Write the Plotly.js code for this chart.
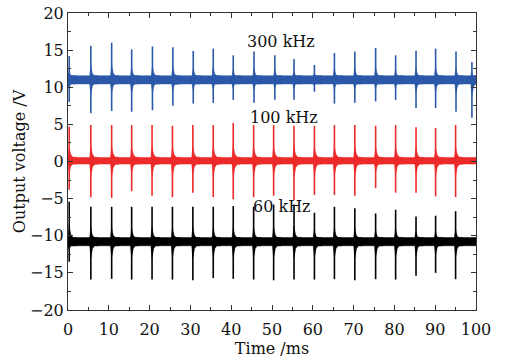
<!DOCTYPE html>
<html>
<head>
<meta charset="utf-8">
<script src="https://cdn.plot.ly/plotly-3.0.1.min.js"></script>
<style>html,body{margin:0;padding:0;background:#fff;}#chart{width:508px;height:362px;}</style>
</head>
<body>
<div id="chart"></div>
<script>
// ---- data ----
var blueTimes = [0.3, 5.6, 10.7, 15.6, 20.7, 25.7, 30.7, 35.6, 40.5, 45.6, 50.7, 55.4, 60.4, 65.3, 70.3, 75.4, 80.3, 85.3, 90.1, 95.1, 99.0];
var blueHigh  = [14.2, 15.6, 16.0, 15.1, 15.5, 15.4, 14.9, 15.2, 14.3, 14.8, 14.3, 13.8, 13.0, 14.6, 14.8, 15.3, 14.3, 14.9, 15.2, 14.8, 13.4];
var blueLow   = [8.0, 6.5, 6.8, 6.7, 6.9, 7.5, 7.8, 7.9, 8.3, 7.9, 8.3, 8.3, 9.4, 7.8, 7.9, 8.1, 8.3, 7.2, 7.2, 6.7, 5.9];
var blueBase = 11.0, blueNoise = 0.55;

var redTimes = [0.3, 5.6, 10.7, 15.6, 20.6, 25.6, 30.6, 35.6, 40.5, 45.5, 50.4, 55.4, 60.4, 65.3, 70.3, 75.4, 80.3, 85.3, 90.1, 95.0];
var redHigh  = [4.7, 4.9, 4.9, 4.9, 4.9, 4.8, 4.9, 4.9, 5.2, 4.9, 4.9, 4.8, 4.8, 4.9, 4.9, 4.8, 4.9, 4.6, 4.5, 4.9];
var redLow   = [-3.8, -4.8, -4.9, -4.0, -4.6, -4.8, -4.2, -4.8, -5.1, -4.8, -4.6, -5.2, -4.5, -4.5, -4.6, -3.6, -4.2, -4.2, -4.7, -4.8];
var redBase = 0.1, redNoise = 0.45;

var blackTimes = [0.3, 5.6, 10.7, 15.6, 20.6, 25.6, 30.6, 35.6, 40.5, 45.5, 50.4, 55.4, 60.4, 65.3, 70.3, 75.4, 80.3, 85.3, 90.1, 95.0];
var blackHigh  = [-5.4, -6.1, -6.1, -6.1, -6.1, -6.1, -6.1, -6.1, -6.0, -6.1, -5.8, -5.8, -6.9, -6.1, -6.3, -7.0, -6.5, -7.4, -7.3, -6.7];
var blackLow   = [-13.5, -15.9, -15.8, -15.9, -15.9, -15.9, -16.0, -15.7, -15.8, -15.9, -16.0, -15.9, -15.9, -15.85, -16.0, -15.85, -15.9, -15.4, -15.0, -15.85];
var blackBase = -10.8, blackNoise = 0.55;

var xTickVals = [0, 10, 20, 30, 40, 50, 60, 70, 80, 90, 100];
var yTickVals = [-20, -15, -10, -5, 0, 5, 10, 15, 20];
var labels = ["300 kHz", "100 kHz", "60 kHz"];
var labelX = [52.2, 53.0, 52.4];
var labelY = [16.1, 5.9, -6.1];

// ---- build traces ----
function signalTraces(times, high, low, base, noise, color) {
  var out = [];
  // baseline noise band
  out.push({x: [0, 100, 100, 0, 0], y: [base + noise, base + noise, base - noise, base - noise, base + noise],
    mode: 'lines', fill: 'toself', fillcolor: color, line: {color: color, width: 0.5}, hoverinfo: 'skip', showlegend: false});
  // decaying ring-down tails after each spike (shape template only)
  var tx = [], ty = [];
  var fr = [[0, 0.42], [0.15, 0.3], [0.4, 0.18], [0.9, 0.1]];
  for (var i = 0; i < times.length; i++) {
    var t = times[i], au = high[i] - base, al = base - low[i];
    var xs = [t - 0.25], ys = [base + noise * 1.3];
    for (var k = 0; k < fr.length; k++) { xs.push(t + fr[k][0]); ys.push(base + Math.max(noise, au * fr[k][1])); }
    xs.push(t + 1.8); ys.push(base + noise);
    xs.push(t + 1.8); ys.push(base - noise);
    for (var k2 = fr.length - 1; k2 >= 0; k2--) { xs.push(t + fr[k2][0]); ys.push(base - Math.max(noise, al * fr[k2][1])); }
    xs.push(t - 0.25); ys.push(base - noise * 1.3);
    xs.push(xs[0]); ys.push(ys[0]);
    tx = tx.concat(xs, [null]); ty = ty.concat(ys, [null]);
  }
  out.push({x: tx, y: ty, mode: 'lines', fill: 'toself', fillcolor: color, line: {color: color, width: 0.5}, hoverinfo: 'skip', showlegend: false});
  // spikes
  var sx = [], sy = [];
  for (var j = 0; j < times.length; j++) { sx.push(times[j], times[j], null); sy.push(low[j], high[j], null); }
  out.push({x: sx, y: sy, mode: 'lines', line: {color: color, width: 1.6}, hoverinfo: 'skip', showlegend: false});
  return out;
}

var data = [].concat(
  signalTraces(blueTimes, blueHigh, blueLow, blueBase, blueNoise, '#2b58a8'),
  signalTraces(redTimes, redHigh, redLow, redBase, redNoise, '#ec2a2a'),
  signalTraces(blackTimes, blackHigh, blackLow, blackBase, blackNoise, '#000000')
);

var font = {family: 'DejaVu Serif', size: 16, color: '#111'};
var axisCommon = {
  showgrid: false, zeroline: false, showline: true, linecolor: '#333', linewidth: 1,
  mirror: 'ticks', ticks: 'inside', ticklen: 5, tickwidth: 1, tickcolor: '#333',
  tickfont: font
};

var layout = {
  width: 508, height: 362,
  margin: {l: 68, r: 32, t: 13, b: 52},
  paper_bgcolor: '#ffffff', plot_bgcolor: '#ffffff',
  font: font,
  xaxis: Object.assign({}, axisCommon, {
    range: [0, 100], tickvals: xTickVals, ticktext: xTickVals.map(String),
    ticklabelstandoff: 5,
    minor: {dtick: 5, ticks: 'inside', ticklen: 3, tickcolor: '#333'},
    title: {text: 'Time /ms', font: font, standoff: 4}
  }),
  yaxis: Object.assign({}, axisCommon, {
    range: [-20, 20], tickvals: yTickVals, ticktext: yTickVals.map(function (v) { return v < 0 ? '\u2212' + Math.abs(v) : String(v); }),
    minor: {dtick: 2.5, ticks: 'inside', ticklen: 3, tickcolor: '#333'},
    title: {text: 'Output voltage /V', font: font, standoff: 0}
  }),
  annotations: labels.map(function (s, i) {
    return {x: labelX[i], y: labelY[i], xref: 'x', yref: 'y', text: s, showarrow: false, font: font};
  })
};

Plotly.newPlot('chart', data, layout, {displayModeBar: false, staticPlot: true});
</script>
</body>
</html>
